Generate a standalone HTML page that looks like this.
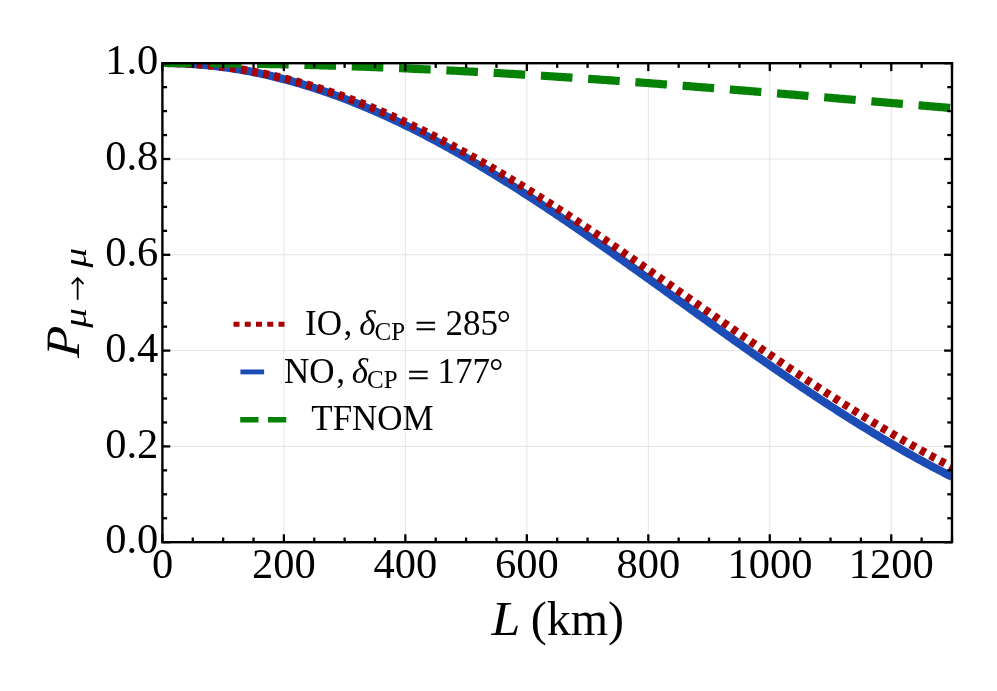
<!DOCTYPE html>
<html><head><meta charset="utf-8"><title>P mu mu</title>
<style>
html,body{margin:0;padding:0;background:#fff;}
svg{display:block;will-change:transform;}
text{font-family:"Liberation Serif",serif;fill:#000;}
.it{font-style:italic;}
</style></head><body>
<svg width="997" height="691" viewBox="0 0 997 691">
<rect width="997" height="691" fill="#fff"/>
<defs><clipPath id="c"><rect x="162.40" y="63.20" width="789.59" height="479.00"/></clipPath></defs>

<g stroke="#e4e4e4" stroke-width="1" fill="none">
<line x1="283.88" y1="63.20" x2="283.88" y2="542.20"/>
<line x1="405.35" y1="63.20" x2="405.35" y2="542.20"/>
<line x1="526.83" y1="63.20" x2="526.83" y2="542.20"/>
<line x1="648.30" y1="63.20" x2="648.30" y2="542.20"/>
<line x1="769.78" y1="63.20" x2="769.78" y2="542.20"/>
<line x1="891.26" y1="63.20" x2="891.26" y2="542.20"/>
<line x1="162.40" y1="446.40" x2="951.99" y2="446.40"/>
<line x1="162.40" y1="350.60" x2="951.99" y2="350.60"/>
<line x1="162.40" y1="254.80" x2="951.99" y2="254.80"/>
<line x1="162.40" y1="159.00" x2="951.99" y2="159.00"/>
</g>
<g clip-path="url(#c)" fill="none" stroke-width="8.2" stroke-linejoin="round">
<path d="M162.40,63.00 L164.38,63.00 L166.36,63.02 L168.34,63.04 L170.32,63.07 L172.29,63.11 L174.27,63.16 L176.25,63.21 L178.23,63.28 L180.21,63.35 L182.19,63.43 L184.17,63.52 L186.15,63.62 L188.13,63.73 L190.11,63.85 L192.08,63.97 L194.06,64.11 L196.04,64.25 L198.02,64.40 L200.00,64.56 L201.98,64.73 L203.96,64.91 L205.94,65.09 L207.92,65.29 L209.89,65.49 L211.87,65.70 L213.85,65.92 L215.83,66.15 L217.81,66.39 L219.79,66.64 L221.77,66.89 L223.75,67.15 L225.73,67.42 L227.70,67.70 L229.68,67.99 L231.66,68.29 L233.64,68.59 L235.62,68.91 L237.60,69.23 L239.58,69.56 L241.56,69.90 L243.54,70.25 L245.52,70.60 L247.49,70.97 L249.47,71.34 L251.45,71.72 L253.43,72.11 L255.41,72.51 L257.39,72.91 L259.37,73.33 L261.35,73.75 L263.33,74.18 L265.30,74.62 L267.28,75.07 L269.26,75.52 L271.24,75.98 L273.22,76.46 L275.20,76.94 L277.18,77.42 L279.16,77.92 L281.14,78.42 L283.11,78.94 L285.09,79.46 L287.07,79.99 L289.05,80.52 L291.03,81.07 L293.01,81.62 L294.99,82.18 L296.97,82.75 L298.95,83.32 L300.93,83.91 L302.90,84.50 L304.88,85.10 L306.86,85.71 L308.84,86.32 L310.82,86.95 L312.80,87.58 L314.78,88.22 L316.76,88.86 L318.74,89.52 L320.71,90.18 L322.69,90.85 L324.67,91.52 L326.65,92.21 L328.63,92.90 L330.61,93.60 L332.59,94.31 L334.57,95.02 L336.55,95.74 L338.52,96.47 L340.50,97.21 L342.48,97.95 L344.46,98.71 L346.44,99.47 L348.42,100.23 L350.40,101.01 L352.38,101.79 L354.36,102.57 L356.34,103.37 L358.31,104.17 L360.29,104.98 L362.27,105.80 L364.25,106.62 L366.23,107.45 L368.21,108.29 L370.19,109.13 L372.17,109.98 L374.15,110.84 L376.12,111.71 L378.10,112.58 L380.08,113.46 L382.06,114.34 L384.04,115.24 L386.02,116.13 L388.00,117.04 L389.98,117.95 L391.96,118.87 L393.94,119.80 L395.91,120.73 L397.89,121.67 L399.87,122.61 L401.85,123.56 L403.83,124.52 L405.81,125.48 L407.79,126.45 L409.77,127.43 L411.75,128.41 L413.72,129.40 L415.70,130.40 L417.68,131.40 L419.66,132.41 L421.64,133.42 L423.62,134.44 L425.60,135.46 L427.58,136.49 L429.56,137.53 L431.53,138.57 L433.51,139.62 L435.49,140.68 L437.47,141.74 L439.45,142.80 L441.43,143.88 L443.41,144.95 L445.39,146.04 L447.37,147.13 L449.35,148.22 L451.32,149.32 L453.30,150.42 L455.28,151.53 L457.26,152.65 L459.24,153.77 L461.22,154.90 L463.20,156.03 L465.18,157.16 L467.16,158.31 L469.13,159.45 L471.11,160.61 L473.09,161.76 L475.07,162.92 L477.05,164.09 L479.03,165.26 L481.01,166.44 L482.99,167.62 L484.97,168.81 L486.94,170.00 L488.92,171.19 L490.90,172.39 L492.88,173.60 L494.86,174.81 L496.84,176.02 L498.82,177.24 L500.80,178.46 L502.78,179.69 L504.76,180.92 L506.73,182.15 L508.71,183.39 L510.69,184.64 L512.67,185.88 L514.65,187.14 L516.63,188.39 L518.61,189.65 L520.59,190.92 L522.57,192.18 L524.54,193.46 L526.52,194.73 L528.50,196.01 L530.48,197.29 L532.46,198.58 L534.44,199.87 L536.42,201.16 L538.40,202.46 L540.38,203.76 L542.36,205.07 L544.33,206.37 L546.31,207.68 L548.29,209.00 L550.27,210.32 L552.25,211.64 L554.23,212.96 L556.21,214.29 L558.19,215.62 L560.17,216.95 L562.14,218.29 L564.12,219.63 L566.10,220.97 L568.08,222.31 L570.06,223.66 L572.04,225.01 L574.02,226.36 L576.00,227.72 L577.98,229.08 L579.95,230.44 L581.93,231.80 L583.91,233.17 L585.89,234.53 L587.87,235.90 L589.85,237.28 L591.83,238.65 L593.81,240.03 L595.79,241.41 L597.77,242.79 L599.74,244.17 L601.72,245.56 L603.70,246.94 L605.68,248.33 L607.66,249.72 L609.64,251.11 L611.62,252.51 L613.60,253.90 L615.58,255.30 L617.55,256.70 L619.53,258.10 L621.51,259.50 L623.49,260.91 L625.47,262.31 L627.45,263.72 L629.43,265.13 L631.41,266.54 L633.39,267.95 L635.36,269.36 L637.34,270.77 L639.32,272.18 L641.30,273.60 L643.28,275.01 L645.26,276.43 L647.24,277.85 L649.22,279.26 L651.20,280.68 L653.18,282.10 L655.15,283.52 L657.13,284.94 L659.11,286.36 L661.09,287.79 L663.07,289.21 L665.05,290.63 L667.03,292.05 L669.01,293.48 L670.99,294.90 L672.96,296.32 L674.94,297.75 L676.92,299.17 L678.90,300.60 L680.88,302.02 L682.86,303.44 L684.84,304.87 L686.82,306.29 L688.80,307.72 L690.77,309.14 L692.75,310.56 L694.73,311.98 L696.71,313.41 L698.69,314.83 L700.67,316.25 L702.65,317.67 L704.63,319.09 L706.61,320.51 L708.59,321.93 L710.56,323.35 L712.54,324.77 L714.52,326.18 L716.50,327.60 L718.48,329.01 L720.46,330.43 L722.44,331.84 L724.42,333.25 L726.40,334.66 L728.37,336.07 L730.35,337.48 L732.33,338.89 L734.31,340.29 L736.29,341.70 L738.27,343.10 L740.25,344.50 L742.23,345.90 L744.21,347.30 L746.19,348.70 L748.16,350.09 L750.14,351.49 L752.12,352.88 L754.10,354.27 L756.08,355.66 L758.06,357.05 L760.04,358.43 L762.02,359.81 L764.00,361.19 L765.97,362.57 L767.95,363.95 L769.93,365.32 L771.91,366.69 L773.89,368.06 L775.87,369.43 L777.85,370.80 L779.83,372.16 L781.81,373.52 L783.78,374.88 L785.76,376.23 L787.74,377.59 L789.72,378.94 L791.70,380.28 L793.68,381.63 L795.66,382.97 L797.64,384.31 L799.62,385.65 L801.60,386.98 L803.57,388.31 L805.55,389.64 L807.53,390.96 L809.51,392.29 L811.49,393.60 L813.47,394.92 L815.45,396.23 L817.43,397.54 L819.41,398.85 L821.38,400.15 L823.36,401.45 L825.34,402.74 L827.32,404.04 L829.30,405.33 L831.28,406.61 L833.26,407.89 L835.24,409.17 L837.22,410.45 L839.19,411.72 L841.17,412.98 L843.15,414.25 L845.13,415.51 L847.11,416.76 L849.09,418.01 L851.07,419.26 L853.05,420.51 L855.03,421.74 L857.01,422.98 L858.98,424.21 L860.96,425.44 L862.94,426.66 L864.92,427.88 L866.90,429.10 L868.88,430.31 L870.86,431.51 L872.84,432.72 L874.82,433.91 L876.79,435.11 L878.77,436.29 L880.75,437.48 L882.73,438.66 L884.71,439.83 L886.69,441.00 L888.67,442.17 L890.65,443.33 L892.63,444.48 L894.60,445.63 L896.58,446.78 L898.56,447.92 L900.54,449.06 L902.52,450.19 L904.50,451.32 L906.48,452.44 L908.46,453.55 L910.44,454.67 L912.42,455.77 L914.39,456.87 L916.37,457.97 L918.35,459.06 L920.33,460.14 L922.31,461.22 L924.29,462.30 L926.27,463.37 L928.25,464.43 L930.23,465.49 L932.20,466.54 L934.18,467.59 L936.16,468.63 L938.14,469.67 L940.12,470.70 L942.10,471.72 L944.08,472.74 L946.06,473.76 L948.04,474.77 L950.02,475.77 L951.99,476.76" stroke="#1c4db6"/>
<path d="M162.40,63.00 L164.38,63.00 L166.36,63.02 L168.34,63.04 L170.32,63.07 L172.29,63.10 L174.27,63.15 L176.25,63.20 L178.23,63.26 L180.21,63.33 L182.19,63.41 L184.17,63.50 L186.15,63.59 L188.13,63.69 L190.11,63.80 L192.08,63.92 L194.06,64.05 L196.04,64.19 L198.02,64.33 L200.00,64.48 L201.98,64.64 L203.96,64.81 L205.94,64.98 L207.92,65.17 L209.89,65.36 L211.87,65.56 L213.85,65.77 L215.83,65.99 L217.81,66.21 L219.79,66.45 L221.77,66.69 L223.75,66.94 L225.73,67.19 L227.70,67.46 L229.68,67.73 L231.66,68.01 L233.64,68.30 L235.62,68.60 L237.60,68.91 L239.58,69.22 L241.56,69.54 L243.54,69.87 L245.52,70.21 L247.49,70.55 L249.47,70.91 L251.45,71.27 L253.43,71.64 L255.41,72.01 L257.39,72.40 L259.37,72.79 L261.35,73.19 L263.33,73.60 L265.30,74.02 L267.28,74.44 L269.26,74.87 L271.24,75.31 L273.22,75.76 L275.20,76.22 L277.18,76.68 L279.16,77.15 L281.14,77.63 L283.11,78.11 L285.09,78.61 L287.07,79.11 L289.05,79.62 L291.03,80.14 L293.01,80.66 L294.99,81.19 L296.97,81.73 L298.95,82.28 L300.93,82.83 L302.90,83.40 L304.88,83.97 L306.86,84.54 L308.84,85.13 L310.82,85.72 L312.80,86.32 L314.78,86.93 L316.76,87.54 L318.74,88.16 L320.71,88.79 L322.69,89.43 L324.67,90.07 L326.65,90.72 L328.63,91.38 L330.61,92.04 L332.59,92.72 L334.57,93.40 L336.55,94.08 L338.52,94.78 L340.50,95.48 L342.48,96.18 L344.46,96.90 L346.44,97.62 L348.42,98.35 L350.40,99.09 L352.38,99.83 L354.36,100.58 L356.34,101.33 L358.31,102.10 L360.29,102.87 L362.27,103.65 L364.25,104.43 L366.23,105.22 L368.21,106.02 L370.19,106.82 L372.17,107.63 L374.15,108.45 L376.12,109.27 L378.10,110.10 L380.08,110.94 L382.06,111.78 L384.04,112.63 L386.02,113.49 L388.00,114.35 L389.98,115.22 L391.96,116.10 L393.94,116.98 L395.91,117.87 L397.89,118.76 L399.87,119.66 L401.85,120.57 L403.83,121.48 L405.81,122.40 L407.79,123.33 L409.77,124.26 L411.75,125.20 L413.72,126.14 L415.70,127.09 L417.68,128.05 L419.66,129.01 L421.64,129.98 L423.62,130.95 L425.60,131.93 L427.58,132.91 L429.56,133.90 L431.53,134.90 L433.51,135.90 L435.49,136.91 L437.47,137.92 L439.45,138.94 L441.43,139.97 L443.41,141.00 L445.39,142.03 L447.37,143.07 L449.35,144.12 L451.32,145.17 L453.30,146.23 L455.28,147.29 L457.26,148.36 L459.24,149.43 L461.22,150.51 L463.20,151.59 L465.18,152.68 L467.16,153.77 L469.13,154.87 L471.11,155.97 L473.09,157.08 L475.07,158.19 L477.05,159.31 L479.03,160.43 L481.01,161.56 L482.99,162.69 L484.97,163.83 L486.94,164.97 L488.92,166.12 L490.90,167.27 L492.88,168.42 L494.86,169.58 L496.84,170.75 L498.82,171.92 L500.80,173.09 L502.78,174.27 L504.76,175.45 L506.73,176.63 L508.71,177.82 L510.69,179.02 L512.67,180.22 L514.65,181.42 L516.63,182.63 L518.61,183.84 L520.59,185.05 L522.57,186.27 L524.54,187.49 L526.52,188.72 L528.50,189.95 L530.48,191.19 L532.46,192.42 L534.44,193.66 L536.42,194.91 L538.40,196.16 L540.38,197.41 L542.36,198.67 L544.33,199.93 L546.31,201.19 L548.29,202.46 L550.27,203.72 L552.25,205.00 L554.23,206.27 L556.21,207.55 L558.19,208.84 L560.17,210.12 L562.14,211.41 L564.12,212.70 L566.10,214.00 L568.08,215.29 L570.06,216.59 L572.04,217.90 L574.02,219.20 L576.00,220.51 L577.98,221.82 L579.95,223.14 L581.93,224.46 L583.91,225.78 L585.89,227.10 L587.87,228.42 L589.85,229.75 L591.83,231.08 L593.81,232.41 L595.79,233.75 L597.77,235.08 L599.74,236.42 L601.72,237.76 L603.70,239.11 L605.68,240.45 L607.66,241.80 L609.64,243.15 L611.62,244.50 L613.60,245.85 L615.58,247.21 L617.55,248.56 L619.53,249.92 L621.51,251.28 L623.49,252.65 L625.47,254.01 L627.45,255.37 L629.43,256.74 L631.41,258.11 L633.39,259.48 L635.36,260.85 L637.34,262.22 L639.32,263.60 L641.30,264.97 L643.28,266.35 L645.26,267.73 L647.24,269.11 L649.22,270.49 L651.20,271.87 L653.18,273.25 L655.15,274.63 L657.13,276.01 L659.11,277.40 L661.09,278.78 L663.07,280.17 L665.05,281.56 L667.03,282.95 L669.01,284.33 L670.99,285.72 L672.96,287.11 L674.94,288.50 L676.92,289.89 L678.90,291.28 L680.88,292.67 L682.86,294.06 L684.84,295.46 L686.82,296.85 L688.80,298.24 L690.77,299.63 L692.75,301.02 L694.73,302.42 L696.71,303.81 L698.69,305.20 L700.67,306.59 L702.65,307.98 L704.63,309.38 L706.61,310.77 L708.59,312.16 L710.56,313.55 L712.54,314.94 L714.52,316.33 L716.50,317.72 L718.48,319.11 L720.46,320.49 L722.44,321.88 L724.42,323.27 L726.40,324.66 L728.37,326.04 L730.35,327.43 L732.33,328.81 L734.31,330.19 L736.29,331.58 L738.27,332.96 L740.25,334.34 L742.23,335.72 L744.21,337.09 L746.19,338.47 L748.16,339.85 L750.14,341.22 L752.12,342.59 L754.10,343.96 L756.08,345.33 L758.06,346.70 L760.04,348.07 L762.02,349.44 L764.00,350.80 L765.97,352.16 L767.95,353.52 L769.93,354.88 L771.91,356.24 L773.89,357.60 L775.87,358.95 L777.85,360.30 L779.83,361.65 L781.81,363.00 L783.78,364.35 L785.76,365.69 L787.74,367.03 L789.72,368.37 L791.70,369.71 L793.68,371.04 L795.66,372.38 L797.64,373.71 L799.62,375.04 L801.60,376.36 L803.57,377.69 L805.55,379.01 L807.53,380.33 L809.51,381.64 L811.49,382.96 L813.47,384.27 L815.45,385.57 L817.43,386.88 L819.41,388.18 L821.38,389.48 L823.36,390.78 L825.34,392.07 L827.32,393.36 L829.30,394.65 L831.28,395.94 L833.26,397.22 L835.24,398.50 L837.22,399.77 L839.19,401.05 L841.17,402.31 L843.15,403.58 L845.13,404.84 L847.11,406.10 L849.09,407.36 L851.07,408.61 L853.05,409.86 L855.03,411.11 L857.01,412.35 L858.98,413.59 L860.96,414.82 L862.94,416.05 L864.92,417.28 L866.90,418.50 L868.88,419.72 L870.86,420.94 L872.84,422.15 L874.82,423.36 L876.79,424.56 L878.77,425.76 L880.75,426.96 L882.73,428.15 L884.71,429.34 L886.69,430.52 L888.67,431.70 L890.65,432.88 L892.63,434.05 L894.60,435.21 L896.58,436.38 L898.56,437.53 L900.54,438.69 L902.52,439.84 L904.50,440.98 L906.48,442.12 L908.46,443.26 L910.44,444.39 L912.42,445.52 L914.39,446.64 L916.37,447.76 L918.35,448.87 L920.33,449.98 L922.31,451.08 L924.29,452.18 L926.27,453.27 L928.25,454.36 L930.23,455.44 L932.20,456.52 L934.18,457.59 L936.16,458.66 L938.14,459.73 L940.12,460.78 L942.10,461.84 L944.08,462.88 L946.06,463.93 L948.04,464.96 L950.02,466.00 L951.99,467.02" stroke="#aa0000" stroke-dasharray="5.7 5.5" stroke-dashoffset="-0.8"/>
<path d="M162.40,63.00 L164.38,63.00 L166.36,63.00 L168.34,63.00 L170.32,63.01 L172.29,63.01 L174.27,63.01 L176.25,63.02 L178.23,63.02 L180.21,63.03 L182.19,63.04 L184.17,63.04 L186.15,63.05 L188.13,63.06 L190.11,63.07 L192.08,63.08 L194.06,63.09 L196.04,63.11 L198.02,63.12 L200.00,63.13 L201.98,63.15 L203.96,63.16 L205.94,63.18 L207.92,63.19 L209.89,63.21 L211.87,63.23 L213.85,63.25 L215.83,63.27 L217.81,63.29 L219.79,63.31 L221.77,63.33 L223.75,63.35 L225.73,63.38 L227.70,63.40 L229.68,63.42 L231.66,63.45 L233.64,63.48 L235.62,63.50 L237.60,63.53 L239.58,63.56 L241.56,63.59 L243.54,63.62 L245.52,63.65 L247.49,63.68 L249.47,63.71 L251.45,63.74 L253.43,63.78 L255.41,63.81 L257.39,63.84 L259.37,63.88 L261.35,63.92 L263.33,63.95 L265.30,63.99 L267.28,64.03 L269.26,64.07 L271.24,64.11 L273.22,64.15 L275.20,64.19 L277.18,64.23 L279.16,64.27 L281.14,64.32 L283.11,64.36 L285.09,64.40 L287.07,64.45 L289.05,64.50 L291.03,64.54 L293.01,64.59 L294.99,64.64 L296.97,64.69 L298.95,64.74 L300.93,64.79 L302.90,64.84 L304.88,64.89 L306.86,64.94 L308.84,65.00 L310.82,65.05 L312.80,65.10 L314.78,65.16 L316.76,65.21 L318.74,65.27 L320.71,65.33 L322.69,65.39 L324.67,65.45 L326.65,65.50 L328.63,65.56 L330.61,65.63 L332.59,65.69 L334.57,65.75 L336.55,65.81 L338.52,65.88 L340.50,65.94 L342.48,66.00 L344.46,66.07 L346.44,66.14 L348.42,66.20 L350.40,66.27 L352.38,66.34 L354.36,66.41 L356.34,66.48 L358.31,66.55 L360.29,66.62 L362.27,66.69 L364.25,66.76 L366.23,66.83 L368.21,66.91 L370.19,66.98 L372.17,67.06 L374.15,67.13 L376.12,67.21 L378.10,67.29 L380.08,67.36 L382.06,67.44 L384.04,67.52 L386.02,67.60 L388.00,67.68 L389.98,67.76 L391.96,67.84 L393.94,67.92 L395.91,68.01 L397.89,68.09 L399.87,68.17 L401.85,68.26 L403.83,68.34 L405.81,68.43 L407.79,68.51 L409.77,68.60 L411.75,68.69 L413.72,68.78 L415.70,68.87 L417.68,68.96 L419.66,69.05 L421.64,69.14 L423.62,69.23 L425.60,69.32 L427.58,69.41 L429.56,69.51 L431.53,69.60 L433.51,69.70 L435.49,69.79 L437.47,69.89 L439.45,69.98 L441.43,70.08 L443.41,70.18 L445.39,70.27 L447.37,70.37 L449.35,70.47 L451.32,70.57 L453.30,70.67 L455.28,70.77 L457.26,70.88 L459.24,70.98 L461.22,71.08 L463.20,71.18 L465.18,71.29 L467.16,71.39 L469.13,71.50 L471.11,71.60 L473.09,71.71 L475.07,71.82 L477.05,71.92 L479.03,72.03 L481.01,72.14 L482.99,72.25 L484.97,72.36 L486.94,72.47 L488.92,72.58 L490.90,72.69 L492.88,72.80 L494.86,72.92 L496.84,73.03 L498.82,73.14 L500.80,73.26 L502.78,73.37 L504.76,73.49 L506.73,73.60 L508.71,73.72 L510.69,73.83 L512.67,73.95 L514.65,74.07 L516.63,74.19 L518.61,74.31 L520.59,74.43 L522.57,74.55 L524.54,74.67 L526.52,74.79 L528.50,74.91 L530.48,75.03 L532.46,75.15 L534.44,75.28 L536.42,75.40 L538.40,75.52 L540.38,75.65 L542.36,75.77 L544.33,75.90 L546.31,76.02 L548.29,76.15 L550.27,76.28 L552.25,76.40 L554.23,76.53 L556.21,76.66 L558.19,76.79 L560.17,76.92 L562.14,77.05 L564.12,77.18 L566.10,77.31 L568.08,77.44 L570.06,77.57 L572.04,77.70 L574.02,77.84 L576.00,77.97 L577.98,78.10 L579.95,78.24 L581.93,78.37 L583.91,78.50 L585.89,78.64 L587.87,78.77 L589.85,78.91 L591.83,79.05 L593.81,79.18 L595.79,79.32 L597.77,79.46 L599.74,79.60 L601.72,79.74 L603.70,79.87 L605.68,80.01 L607.66,80.15 L609.64,80.29 L611.62,80.43 L613.60,80.58 L615.58,80.72 L617.55,80.86 L619.53,81.00 L621.51,81.14 L623.49,81.29 L625.47,81.43 L627.45,81.57 L629.43,81.72 L631.41,81.86 L633.39,82.01 L635.36,82.15 L637.34,82.30 L639.32,82.44 L641.30,82.59 L643.28,82.74 L645.26,82.88 L647.24,83.03 L649.22,83.18 L651.20,83.33 L653.18,83.47 L655.15,83.62 L657.13,83.77 L659.11,83.92 L661.09,84.07 L663.07,84.22 L665.05,84.37 L667.03,84.52 L669.01,84.67 L670.99,84.83 L672.96,84.98 L674.94,85.13 L676.92,85.28 L678.90,85.43 L680.88,85.59 L682.86,85.74 L684.84,85.89 L686.82,86.05 L688.80,86.20 L690.77,86.36 L692.75,86.51 L694.73,86.67 L696.71,86.82 L698.69,86.98 L700.67,87.13 L702.65,87.29 L704.63,87.45 L706.61,87.60 L708.59,87.76 L710.56,87.92 L712.54,88.07 L714.52,88.23 L716.50,88.39 L718.48,88.55 L720.46,88.71 L722.44,88.86 L724.42,89.02 L726.40,89.18 L728.37,89.34 L730.35,89.50 L732.33,89.66 L734.31,89.82 L736.29,89.98 L738.27,90.14 L740.25,90.30 L742.23,90.46 L744.21,90.62 L746.19,90.79 L748.16,90.95 L750.14,91.11 L752.12,91.27 L754.10,91.43 L756.08,91.60 L758.06,91.76 L760.04,91.92 L762.02,92.08 L764.00,92.25 L765.97,92.41 L767.95,92.57 L769.93,92.74 L771.91,92.90 L773.89,93.07 L775.87,93.23 L777.85,93.39 L779.83,93.56 L781.81,93.72 L783.78,93.89 L785.76,94.05 L787.74,94.22 L789.72,94.38 L791.70,94.55 L793.68,94.71 L795.66,94.88 L797.64,95.04 L799.62,95.21 L801.60,95.38 L803.57,95.54 L805.55,95.71 L807.53,95.87 L809.51,96.04 L811.49,96.21 L813.47,96.37 L815.45,96.54 L817.43,96.71 L819.41,96.87 L821.38,97.04 L823.36,97.21 L825.34,97.37 L827.32,97.54 L829.30,97.71 L831.28,97.88 L833.26,98.04 L835.24,98.21 L837.22,98.38 L839.19,98.54 L841.17,98.71 L843.15,98.88 L845.13,99.05 L847.11,99.22 L849.09,99.38 L851.07,99.55 L853.05,99.72 L855.03,99.89 L857.01,100.05 L858.98,100.22 L860.96,100.39 L862.94,100.56 L864.92,100.73 L866.90,100.89 L868.88,101.06 L870.86,101.23 L872.84,101.40 L874.82,101.57 L876.79,101.73 L878.77,101.90 L880.75,102.07 L882.73,102.24 L884.71,102.41 L886.69,102.57 L888.67,102.74 L890.65,102.91 L892.63,103.08 L894.60,103.24 L896.58,103.41 L898.56,103.58 L900.54,103.75 L902.52,103.92 L904.50,104.08 L906.48,104.25 L908.46,104.42 L910.44,104.59 L912.42,104.75 L914.39,104.92 L916.37,105.09 L918.35,105.25 L920.33,105.42 L922.31,105.59 L924.29,105.76 L926.27,105.92 L928.25,106.09 L930.23,106.26 L932.20,106.42 L934.18,106.59 L936.16,106.76 L938.14,106.92 L940.12,107.09 L942.10,107.25 L944.08,107.42 L946.06,107.59 L948.04,107.75 L950.02,107.92 L951.99,108.08" stroke="#058205" stroke-dasharray="31.6 15.75"/>
</g>
<g stroke="#000" stroke-width="2.3" fill="none">
<line x1="162.40" y1="542.20" x2="162.40" y2="534.30"/>
<line x1="162.40" y1="63.20" x2="162.40" y2="71.10"/>
<line x1="192.77" y1="542.20" x2="192.77" y2="537.50"/>
<line x1="192.77" y1="63.20" x2="192.77" y2="67.90"/>
<line x1="223.14" y1="542.20" x2="223.14" y2="537.50"/>
<line x1="223.14" y1="63.20" x2="223.14" y2="67.90"/>
<line x1="253.51" y1="542.20" x2="253.51" y2="537.50"/>
<line x1="253.51" y1="63.20" x2="253.51" y2="67.90"/>
<line x1="283.88" y1="542.20" x2="283.88" y2="534.30"/>
<line x1="283.88" y1="63.20" x2="283.88" y2="71.10"/>
<line x1="314.25" y1="542.20" x2="314.25" y2="537.50"/>
<line x1="314.25" y1="63.20" x2="314.25" y2="67.90"/>
<line x1="344.61" y1="542.20" x2="344.61" y2="537.50"/>
<line x1="344.61" y1="63.20" x2="344.61" y2="67.90"/>
<line x1="374.98" y1="542.20" x2="374.98" y2="537.50"/>
<line x1="374.98" y1="63.20" x2="374.98" y2="67.90"/>
<line x1="405.35" y1="542.20" x2="405.35" y2="534.30"/>
<line x1="405.35" y1="63.20" x2="405.35" y2="71.10"/>
<line x1="435.72" y1="542.20" x2="435.72" y2="537.50"/>
<line x1="435.72" y1="63.20" x2="435.72" y2="67.90"/>
<line x1="466.09" y1="542.20" x2="466.09" y2="537.50"/>
<line x1="466.09" y1="63.20" x2="466.09" y2="67.90"/>
<line x1="496.46" y1="542.20" x2="496.46" y2="537.50"/>
<line x1="496.46" y1="63.20" x2="496.46" y2="67.90"/>
<line x1="526.83" y1="542.20" x2="526.83" y2="534.30"/>
<line x1="526.83" y1="63.20" x2="526.83" y2="71.10"/>
<line x1="557.20" y1="542.20" x2="557.20" y2="537.50"/>
<line x1="557.20" y1="63.20" x2="557.20" y2="67.90"/>
<line x1="587.57" y1="542.20" x2="587.57" y2="537.50"/>
<line x1="587.57" y1="63.20" x2="587.57" y2="67.90"/>
<line x1="617.94" y1="542.20" x2="617.94" y2="537.50"/>
<line x1="617.94" y1="63.20" x2="617.94" y2="67.90"/>
<line x1="648.30" y1="542.20" x2="648.30" y2="534.30"/>
<line x1="648.30" y1="63.20" x2="648.30" y2="71.10"/>
<line x1="678.67" y1="542.20" x2="678.67" y2="537.50"/>
<line x1="678.67" y1="63.20" x2="678.67" y2="67.90"/>
<line x1="709.04" y1="542.20" x2="709.04" y2="537.50"/>
<line x1="709.04" y1="63.20" x2="709.04" y2="67.90"/>
<line x1="739.41" y1="542.20" x2="739.41" y2="537.50"/>
<line x1="739.41" y1="63.20" x2="739.41" y2="67.90"/>
<line x1="769.78" y1="542.20" x2="769.78" y2="534.30"/>
<line x1="769.78" y1="63.20" x2="769.78" y2="71.10"/>
<line x1="800.15" y1="542.20" x2="800.15" y2="537.50"/>
<line x1="800.15" y1="63.20" x2="800.15" y2="67.90"/>
<line x1="830.52" y1="542.20" x2="830.52" y2="537.50"/>
<line x1="830.52" y1="63.20" x2="830.52" y2="67.90"/>
<line x1="860.89" y1="542.20" x2="860.89" y2="537.50"/>
<line x1="860.89" y1="63.20" x2="860.89" y2="67.90"/>
<line x1="891.26" y1="542.20" x2="891.26" y2="534.30"/>
<line x1="891.26" y1="63.20" x2="891.26" y2="71.10"/>
<line x1="921.62" y1="542.20" x2="921.62" y2="537.50"/>
<line x1="921.62" y1="63.20" x2="921.62" y2="67.90"/>
<line x1="951.99" y1="542.20" x2="951.99" y2="537.50"/>
<line x1="951.99" y1="63.20" x2="951.99" y2="67.90"/>
<line x1="162.40" y1="542.20" x2="170.30" y2="542.20"/>
<line x1="951.99" y1="542.20" x2="944.09" y2="542.20"/>
<line x1="162.40" y1="518.25" x2="167.10" y2="518.25"/>
<line x1="951.99" y1="518.25" x2="947.29" y2="518.25"/>
<line x1="162.40" y1="494.30" x2="167.10" y2="494.30"/>
<line x1="951.99" y1="494.30" x2="947.29" y2="494.30"/>
<line x1="162.40" y1="470.35" x2="167.10" y2="470.35"/>
<line x1="951.99" y1="470.35" x2="947.29" y2="470.35"/>
<line x1="162.40" y1="446.40" x2="170.30" y2="446.40"/>
<line x1="951.99" y1="446.40" x2="944.09" y2="446.40"/>
<line x1="162.40" y1="422.45" x2="167.10" y2="422.45"/>
<line x1="951.99" y1="422.45" x2="947.29" y2="422.45"/>
<line x1="162.40" y1="398.50" x2="167.10" y2="398.50"/>
<line x1="951.99" y1="398.50" x2="947.29" y2="398.50"/>
<line x1="162.40" y1="374.55" x2="167.10" y2="374.55"/>
<line x1="951.99" y1="374.55" x2="947.29" y2="374.55"/>
<line x1="162.40" y1="350.60" x2="170.30" y2="350.60"/>
<line x1="951.99" y1="350.60" x2="944.09" y2="350.60"/>
<line x1="162.40" y1="326.65" x2="167.10" y2="326.65"/>
<line x1="951.99" y1="326.65" x2="947.29" y2="326.65"/>
<line x1="162.40" y1="302.70" x2="167.10" y2="302.70"/>
<line x1="951.99" y1="302.70" x2="947.29" y2="302.70"/>
<line x1="162.40" y1="278.75" x2="167.10" y2="278.75"/>
<line x1="951.99" y1="278.75" x2="947.29" y2="278.75"/>
<line x1="162.40" y1="254.80" x2="170.30" y2="254.80"/>
<line x1="951.99" y1="254.80" x2="944.09" y2="254.80"/>
<line x1="162.40" y1="230.85" x2="167.10" y2="230.85"/>
<line x1="951.99" y1="230.85" x2="947.29" y2="230.85"/>
<line x1="162.40" y1="206.90" x2="167.10" y2="206.90"/>
<line x1="951.99" y1="206.90" x2="947.29" y2="206.90"/>
<line x1="162.40" y1="182.95" x2="167.10" y2="182.95"/>
<line x1="951.99" y1="182.95" x2="947.29" y2="182.95"/>
<line x1="162.40" y1="159.00" x2="170.30" y2="159.00"/>
<line x1="951.99" y1="159.00" x2="944.09" y2="159.00"/>
<line x1="162.40" y1="135.05" x2="167.10" y2="135.05"/>
<line x1="951.99" y1="135.05" x2="947.29" y2="135.05"/>
<line x1="162.40" y1="111.10" x2="167.10" y2="111.10"/>
<line x1="951.99" y1="111.10" x2="947.29" y2="111.10"/>
<line x1="162.40" y1="87.15" x2="167.10" y2="87.15"/>
<line x1="951.99" y1="87.15" x2="947.29" y2="87.15"/>
<line x1="162.40" y1="63.20" x2="170.30" y2="63.20"/>
<line x1="951.99" y1="63.20" x2="944.09" y2="63.20"/>
</g>
<rect x="162.40" y="63.20" width="789.59" height="479.00" fill="none" stroke="#000" stroke-width="2.4"/>
<g font-size="42.5">
<text x="162.50" y="578.2" text-anchor="middle">0</text>
<text x="283.98" y="578.2" text-anchor="middle">200</text>
<text x="405.45" y="578.2" text-anchor="middle">400</text>
<text x="526.93" y="578.2" text-anchor="middle">600</text>
<text x="648.40" y="578.2" text-anchor="middle">800</text>
<text x="769.88" y="578.2" text-anchor="middle">1000</text>
<text x="891.36" y="578.2" text-anchor="middle">1200</text>
<text x="158.3" y="553.40" text-anchor="end">0.0</text>
<text x="158.3" y="457.60" text-anchor="end">0.2</text>
<text x="158.3" y="361.80" text-anchor="end">0.4</text>
<text x="158.3" y="266.00" text-anchor="end">0.6</text>
<text x="158.3" y="170.20" text-anchor="end">0.8</text>
<text x="158.3" y="74.40" text-anchor="end">1.0</text>
</g>
<text class="it" font-size="48" transform="translate(491.4,634.6) scale(1.08,1)" x="0" y="0">L</text>
<text font-size="48" y="634.6" x="530.7">(km)</text>
<g transform="translate(78.9,358.5) rotate(-90)">
<text class="it" font-size="48" transform="translate(0.6,0) scale(1.04,1) skewX(-4)" x="0" y="0">P</text>
<text class="it" font-size="32" transform="translate(30.7,7.2) scale(1.22,1)" x="0" y="0">μ</text>
<text class="it" font-size="32" transform="translate(91.0,7.2) scale(1.22,1)" x="0" y="0">μ</text>
<path d="M58.8,-1.25 H80.6 M74.5,-7.15 L80.4,-1.25 L74.5,4.65" fill="none" stroke="#000" stroke-width="1.8" stroke-linecap="butt" stroke-linejoin="miter"/>
</g>
<g fill="none">
<path d="M233.5,324.2 H285" stroke="#aa0000" stroke-width="5" stroke-dasharray="6 5.25"/>
<path d="M240.4,371.9 H264.1" stroke="#1c4db6" stroke-width="4.9"/>
<path d="M240.2,419.7 H286.4" stroke="#058205" stroke-width="5.4" stroke-dasharray="18.3 9.5"/>
</g>
<g font-size="35">
<text y="334.9"><tspan x="305.0">IO</tspan><tspan x="343.6">,</tspan><tspan class="it" x="359.2">δ</tspan><tspan font-size="25" x="374.6" dy="5.4">CP</tspan><tspan x="445.6" dy="-5.4">285</tspan><tspan x="496.7">°</tspan></text>
<text transform="translate(415.00,336.95) scale(1.10,0.90)" x="0" y="0" stroke="#000" stroke-width="0.5">=</text>
<text y="383.0"><tspan x="284.0">NO</tspan><tspan x="336.3">,</tspan><tspan class="it" x="351.8">δ</tspan><tspan font-size="25" x="367.0" dy="5.4">CP</tspan><tspan x="437.6" dy="-5.4">177</tspan><tspan x="489.3">°</tspan></text>
<text transform="translate(407.50,385.85) scale(1.10,0.90)" x="0" y="0" stroke="#000" stroke-width="0.5">=</text>
<text y="429.5" x="311.3" textLength="122.3" lengthAdjust="spacingAndGlyphs">TFNOM</text>
</g>
</svg></body></html>
